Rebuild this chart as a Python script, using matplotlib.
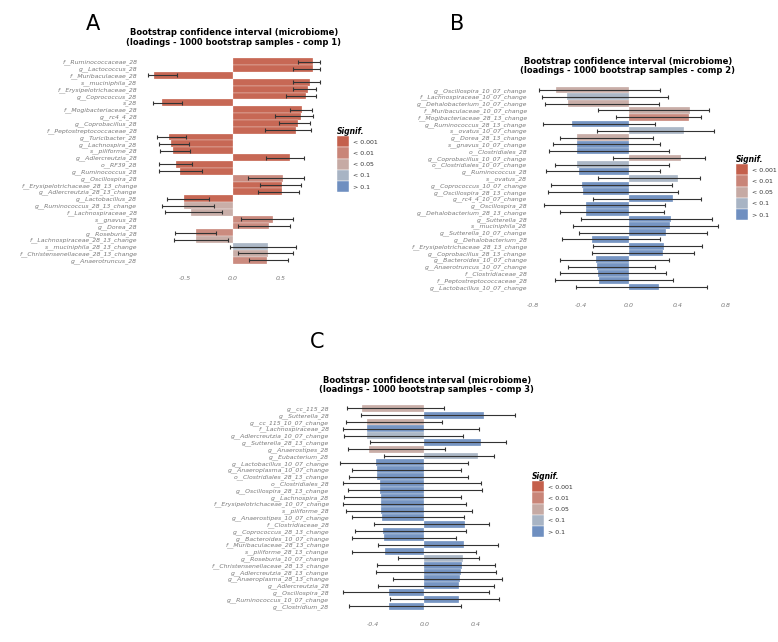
import numpy as np
import matplotlib
matplotlib.use('Agg')
import matplotlib.pyplot as plt
from matplotlib.patches import Patch

# significance classes and their colours
sig_levels = ['< 0.001', '< 0.01', '< 0.05', '< 0.1', '> 0.1']
sig_colors = ['#c4604c', '#c98578', '#c6aaa4', '#a8b4c4', '#6f8fc0']

################################################################
# panel A - comp 1
names_a = ['f__Ruminococcaceae_28', 'g__Lactococcus_28', 'f__Muribaculaceae_28',
           's__muciniphila_28', 'f__Erysipelotrichaceae_28', 'g__Coprococcus_28', 's_28',
           'f__Mogibacteriaceae_28', 'g__rc4_4_28', 'g__Coprobacillus_28',
           'f__Peptostreptococcaceae_28', 'g__Turicibacter_28', 'g__Lachnospira_28',
           's__piliforme_28', 'g__Adlercreutzia_28', 'o__RF39_28', 'g__Ruminococcus_28',
           'g__Oscillospira_28', 'f__Erysipelotrichaceae_28_13_change',
           'g__Adlercreutzia_28_13_change', 'g__Lactobacillus_28',
           'g__Ruminococcus_28_13_change', 'f__Lachnospiraceae_28', 's__gnavus_28',
           'g__Dorea_28', 'g__Roseburia_28', 'f__Lachnospiraceae_28_13_change',
           's__muciniphila_28_13_change', 'f__Christensenellaceae_28_13_change',
           'g__Anaerotruncus_28']
load_a = np.array([0.838, 0.838, -0.817, 0.806, 0.785, 0.764, -0.736, 0.723, 0.716, 0.688,
                   0.663, -0.663, -0.642, -0.618, 0.600, -0.593, -0.548, 0.531, 0.520, 0.513,
                   -0.506, -0.503, -0.433, 0.422, 0.387, -0.377, -0.377, 0.370, 0.370, 0.363])
low_a = np.array([0.681, 0.632, -0.887, 0.628, 0.628, 0.562, -0.827, 0.597, 0.440, 0.485,
                  0.335, -0.785, -0.764, -0.754, 0.349, -0.764, -0.764, 0.157, 0.283, 0.265,
                  -0.688, -0.740, -0.702, 0.087, 0.056, -0.597, -0.611, -0.024, 0.056, 0.168])
high_a = np.array([0.911, 0.911, -0.583, 0.911, 0.876, 0.869, -0.531, 0.834, 0.841, 0.813,
                   0.820, -0.482, -0.457, -0.447, 0.747, -0.426, -0.314, 0.750, 0.716, 0.695,
                   -0.248, -0.195, -0.115, 0.635, 0.600, -0.175, -0.049, 0.663, 0.635, 0.576])
sig_a = [0, 0, 0, 0, 0, 0, 0, 0, 0, 0, 0, 0, 0, 0, 0, 0, 0, 1, 0, 0,
         0, 2, 2, 1, 1, 1, 2, 3, 2, 1]

################################################################
# panel B - comp 2
names_b = ['g__Oscillospira_10_07_change', 'f__Lachnospiraceae_10_07_change',
           'g__Dehalobacterium_10_07_change', 'f__Muribaculaceae_10_07_change',
           'f__Mogibacteriaceae_28_13_change', 'g__Ruminococcus_28_13_change',
           's__ovatus_10_07_change', 'g__Dorea_28_13_change', 's__gnavus_10_07_change',
           'o__Clostridiales_28', 'g__Coprobacillus_10_07_change',
           'o__Clostridiales_10_07_change', 'g__Ruminococcus_28', 's__ovatus_28',
           'g__Coprococcus_10_07_change', 'g__Oscillospira_28_13_change',
           'g__rc4_4_10_07_change', 'g__Oscillospira_28', 'g__Dehalobacterium_28_13_change',
           'g__Sutterella_28', 's__muciniphila_28', 'g__Sutterella_10_07_change',
           'g__Dehalobacterium_28', 'f__Erysipelotrichaceae_28_13_change',
           'g__Coprobacillus_28_13_change', 'g__Bacteroides_10_07_change',
           'g__Anaerotruncus_10_07_change', 'f__Clostridiaceae_28',
           'f__Peptostreptococcaceae_28', 'g__Lactobacillus_10_07_change']
load_b = np.array([-0.603, -0.514, -0.506, 0.503, 0.498, -0.475, 0.453, -0.434, -0.434, -0.434,
                   0.434, -0.428, -0.417, 0.404, -0.392, -0.381, 0.365, -0.354, -0.354, 0.348,
                   0.343, 0.310, -0.307, 0.287, 0.282, -0.274, -0.265, -0.260, -0.252, 0.252])
low_b = np.array([-0.746, -0.721, -0.699, -0.257, -0.108, -0.713, -0.268, -0.572, -0.633, -0.663,
                  -0.133, -0.616, -0.691, -0.254, -0.650, -0.672, -0.301, -0.708, -0.572, -0.401,
                  -0.462, -0.415, -0.558, -0.299, -0.304, -0.569, -0.503, -0.575, -0.616, -0.442])
high_b = np.array([0.260, 0.323, 0.246, 0.663, 0.594, 0.218, 0.702, 0.199, 0.254, 0.332,
                   0.627, 0.332, 0.257, 0.589, 0.359, 0.409, 0.597, 0.296, 0.287, 0.685,
                   0.738, 0.644, 0.254, 0.603, 0.536, 0.332, 0.213, 0.310, 0.368, 0.647])
sig_b = [2, 3, 2, 2, 1, 4, 3, 2, 4, 4, 2, 3, 4, 3, 4, 4, 4, 4, 4, 4,
         4, 4, 4, 4, 4, 4, 4, 4, 4, 4]

################################################################
# panel C - comp 3
names_c = ['g__cc_115_28', 'g__Sutterella_28', 'g__cc_115_10_07_change',
           'f__Lachnospiraceae_28', 'g__Adlercreutzia_10_07_change',
           'g__Sutterella_28_13_change', 'g__Anaerostipes_28', 'g__Eubacterium_28',
           'g__Lactobacillus_10_07_change', 'g__Anaeroplasma_10_07_change',
           'o__Clostridiales_28_13_change', 'o__Clostridiales_28',
           'g__Oscillospira_28_13_change', 'g__Lachnospira_28',
           'f__Erysipelotrichaceae_10_07_change', 's__piliforme_28',
           'g__Anaerostipes_10_07_change', 'f__Clostridiaceae_28',
           'g__Coprococcus_28_13_change', 'g__Bacteroides_10_07_change',
           'f__Muribaculaceae_28_13_change', 's__piliforme_28_13_change',
           'g__Roseburia_10_07_change', 'f__Christensenellaceae_28_13_change',
           'g__Adlercreutzia_28_13_change', 'g__Anaeroplasma_28_13_change',
           'g__Adlercreutzia_28', 'g__Oscillospira_28', 'g__Ruminococcus_10_07_change',
           'g__Clostridium_28']
load_c = np.array([-0.490, 0.469, -0.451, -0.445, -0.445, 0.440, -0.430, 0.422, -0.378, -0.372,
                   -0.370, -0.349, -0.344, -0.341, -0.339, -0.336, -0.331, 0.318, -0.320, -0.315,
                   0.310, -0.305, 0.299, 0.297, 0.286, 0.281, 0.273, -0.273, 0.271, -0.273])
low_c = np.array([-0.604, -0.492, -0.612, -0.635, -0.625, -0.424, -0.594, -0.318, -0.661, -0.568,
                  -0.586, -0.635, -0.599, -0.625, -0.638, -0.615, -0.568, -0.396, -0.544, -0.565,
                  -0.362, -0.563, -0.203, -0.372, -0.380, -0.247, -0.365, -0.638, -0.266, -0.589])
high_c = np.array([0.151, 0.706, 0.135, 0.424, 0.302, 0.641, 0.159, 0.544, 0.339, 0.286,
                   0.339, 0.440, 0.451, 0.286, 0.326, 0.375, 0.307, 0.505, 0.323, 0.245,
                   0.576, 0.406, 0.424, 0.552, 0.557, 0.607, 0.542, 0.508, 0.583, 0.286])
sig_c = [2, 4, 2, 4, 3, 4, 2, 3, 4, 4, 4, 4, 4, 4, 4, 4, 4, 4, 4, 4,
         4, 4, 3, 4, 4, 4, 4, 4, 4, 4]

title_text = 'Bootstrap confidence interval (microbiome)\n(loadings - 1000 bootstrap samples - comp %d)'

W, H = 778, 642
fig = plt.figure(figsize=(W / 100, H / 100), dpi=100)


def px_box(left, top, right, bottom):
    # pixel box -> figure fraction [l, b, w, h]
    return [left / W, 1 - bottom / H, (right - left) / W, (bottom - top) / H]


def draw_panel(box, xlim, ticks, names, load, low, high, sig, comp,
               letter, letter_pos, title_pos, legend_pos):
    ax = fig.add_axes(px_box(*box))
    y = np.arange(len(names))
    cols = [sig_colors[s] for s in sig]
    ax.barh(y, load, height=1.0, color=cols, edgecolor='white', linewidth=0.2, alpha=0.95)
    ax.errorbar(load, y, xerr=[load - low, high - load], fmt='none', ecolor='#333333',
                elinewidth=0.8, capsize=1.4, capthick=0.8)
    ax.set_xlim(xlim)
    ax.set_ylim(len(names) - 0.5, -0.5)
    ax.set_yticks(y)
    ax.set_yticklabels(names, fontsize=4.4, color='#7a7a7a', style='italic')
    ax.set_xticks(ticks)
    ax.set_xticklabels(['%.1f' % t for t in ticks], fontsize=4.5, color='#7a7a7a', style='italic')
    ax.tick_params(axis='y', length=0, pad=2)
    ax.tick_params(axis='x', length=0, pad=9)
    for s in ax.spines.values():
        s.set_visible(False)

    fig.text(letter_pos[0] / W, 1 - letter_pos[1] / H, letter, fontsize=15,
             ha='center', va='center')
    fig.text(title_pos[0] / W, 1 - title_pos[1] / H, title_text % comp, fontsize=6,
             fontweight='bold', ha='center', va='center', linespacing=1.05)

    handles = [Patch(facecolor=c, edgecolor='white', linewidth=0.3) for c in sig_colors]
    fig.legend(handles, sig_levels, title='Signif.', loc='upper left',
               bbox_to_anchor=(legend_pos[0] / W, 1 - legend_pos[1] / H),
               frameon=False, fontsize=4.5, labelcolor='#333333',
               title_fontproperties={'weight': 'bold', 'style': 'italic', 'size': 5.5},
               handlelength=1.9, handleheight=2.4, labelspacing=0.0, handletextpad=0.6,
               borderpad=0, borderaxespad=0, alignment='left')
    return ax


draw_panel((140, 58.3, 330, 263.7), ((140 - 232.5) / 95.6, (330 - 232.5) / 95.6),
           [-0.5, 0.0, 0.5], names_a, load_a, low_a, high_a, sig_a, 1,
           'A', (93, 23.5), (234, 37.5), (337, 127))

draw_panel((530, 86.6, 760, 290.3), ((530 - 629) / 120.6, (760 - 629) / 120.6),
           [-0.8, -0.4, 0.0, 0.4, 0.8], names_b, load_b, low_b, high_b, sig_b, 2,
           'B', (457, 23.5), (628, 66.3), (736, 155))

draw_panel((332, 404.9, 520, 609.5), ((332 - 424.3) / 128, (520 - 424.3) / 128),
           [-0.4, 0.0, 0.4], names_c, load_c, low_c, high_c, sig_c, 3,
           'C', (316.7, 341.5), (426.7, 385.3), (532, 472))

plt.savefig('out.png', dpi=100)
